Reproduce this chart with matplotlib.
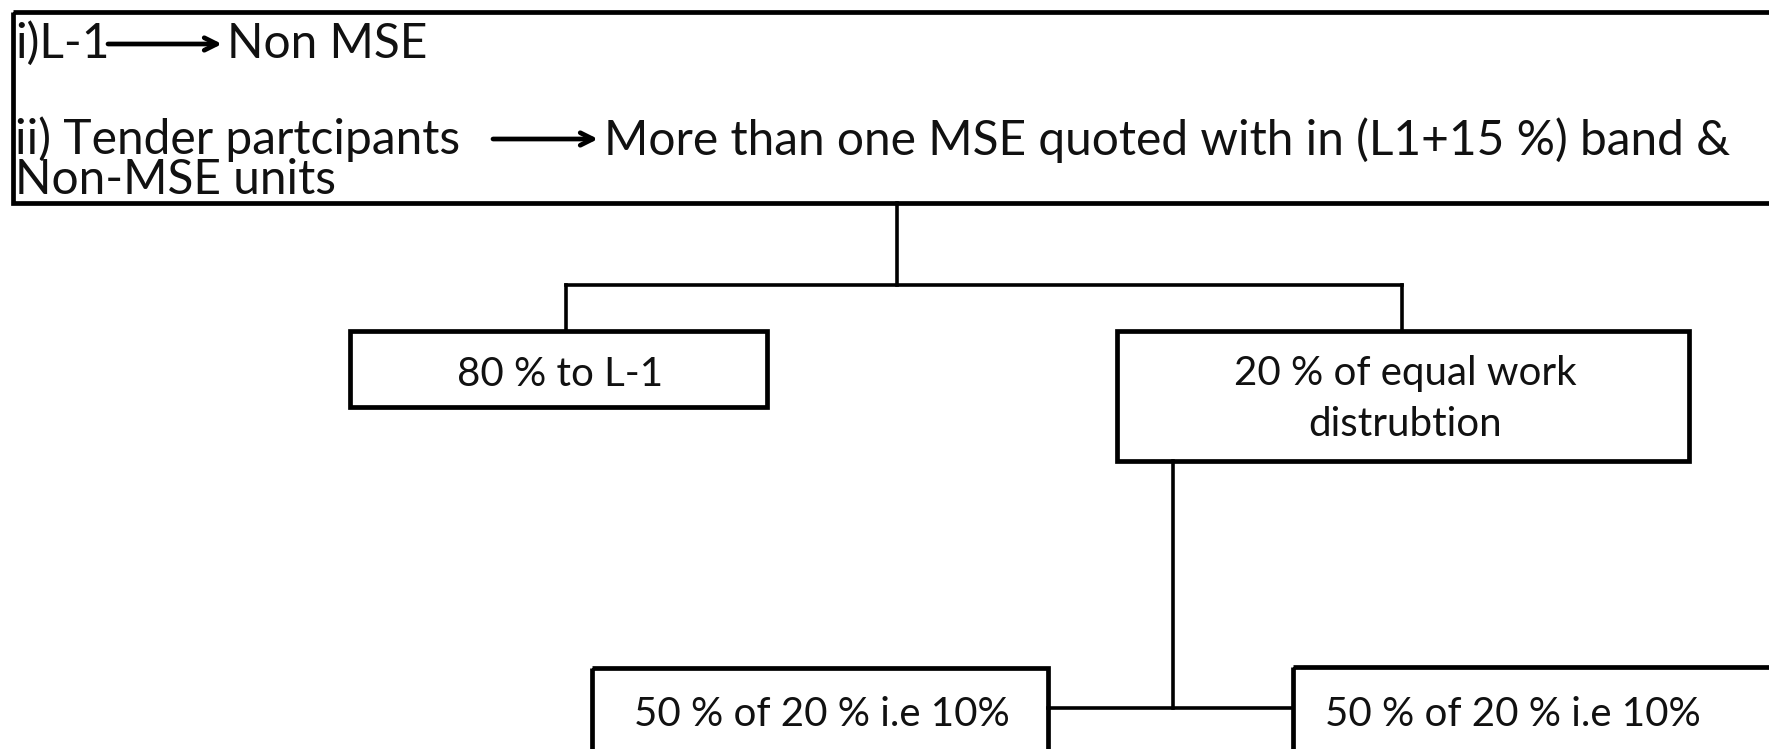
import matplotlib
matplotlib.use("Agg")
import matplotlib.pyplot as plt
from matplotlib.patches import Rectangle

# texts of the flow chart
head_from = ["i)L-1", "ii) Tender partcipants\nNon-MSE units"]
head_to = ["Non MSE", "More than one MSE quoted with in (L1+15 %) band &"]
level1 = ["80 % to L-1", "20 % of equal work", "distrubtion"]
level2 = ["50 % of 20 % i.e 10%", "50 % of 20 % i.e 10%"]

plt.rcParams['font.family'] = ['Lato', 'DejaVu Sans']

W, H = 1769, 749
fig = plt.figure(figsize=(W / 100, H / 100), dpi=100)
ax = fig.add_axes([0, 0, 1, 1])
ax.set_xlim(0, W)
ax.set_ylim(H, 0)
ax.axis('off')

BOX_LW = 3.4
LINE_LW = 2.6
HEAD_FS = 34.5
BOX_FS = 29


def box(x0, y0, x1, y1):
    ax.add_patch(Rectangle((x0, y0), x1 - x0, y1 - y0, fill=False,
                           ec='black', lw=BOX_LW, joinstyle='miter'))


def line(xs, ys):
    ax.plot(xs, ys, color='black', lw=LINE_LW, solid_capstyle='projecting')


def arrow(x0, x1, y):
    ax.annotate("", xy=(x1, y), xytext=(x0, y),
                arrowprops=dict(arrowstyle='->,head_length=0.9,head_width=0.45',
                                lw=3.4, color='black', shrinkA=0, shrinkB=0))


def say(x, y, s, fs, ha='left', ls=1.2):
    ax.text(x, y, s, fontsize=fs, va='baseline', ha=ha, color='#111111',
            linespacing=ls)


# header box
box(13, 12, W + 20, 203)
say(15, 58, head_from[0], HEAD_FS)
arrow(108, 222, 44)
say(227, 58, head_to[0], HEAD_FS)
# second item wraps onto a third line, baseline given for the last line
say(15, 194, head_from[1], HEAD_FS, ls=0.88)
arrow(493, 598, 139)
say(604, 155, head_to[1], HEAD_FS)

# connectors to first level
line([897, 897], [203, 285])
line([566, 1402], [285, 285])
line([566, 566], [285, 331])
line([1402, 1402], [285, 331])

# first level boxes
box(350, 331, 767, 407)
say(560, 386, level1[0], BOX_FS, ha='center')
box(1117, 331, 1689, 461)
say(1405, 385, level1[1], BOX_FS, ha='center')
say(1405, 436, level1[2], BOX_FS, ha='center')

# connectors to second level
line([1173, 1173], [461, 708])
line([1048, 1293], [708, 708])

# second level boxes
box(592, 668, 1048, H + 20)
say(822, 726, level2[0], BOX_FS, ha='center')
box(1293, 667, W + 20, H + 20)
say(1513, 726, level2[1], BOX_FS, ha='center')

fig.savefig("out.png", dpi=100)
